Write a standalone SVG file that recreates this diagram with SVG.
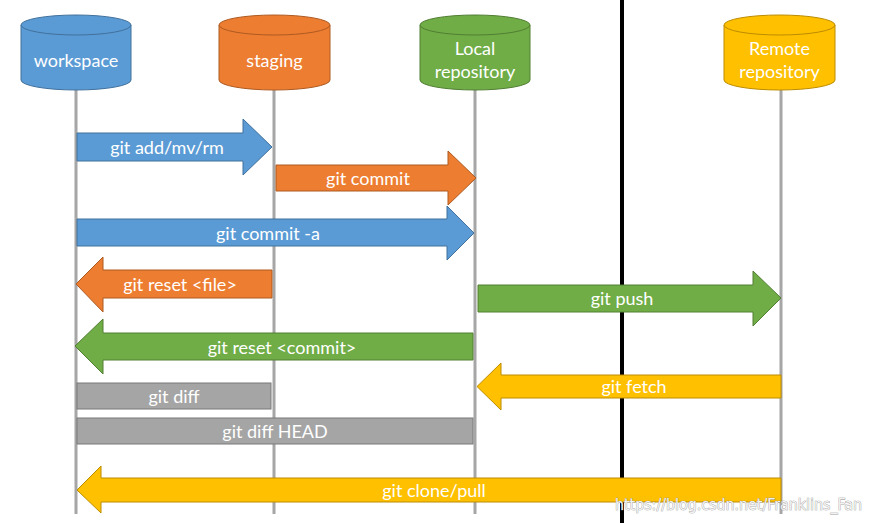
<svg xmlns="http://www.w3.org/2000/svg" width="871" height="523" viewBox="0 0 871 523">
<style>
.t{font-family:Lato,"Open Sans","Liberation Sans",sans-serif;font-size:18px;fill:#fff;text-anchor:middle;dominant-baseline:central}
.life{stroke:#a6a6a6;stroke-width:3;fill:none}
.blue{fill:#5b9bd5;stroke:#41719c;stroke-width:1}
.orange{fill:#ed7d31;stroke:#ae5a21;stroke-width:1}
.green{fill:#70ad47;stroke:#507e32;stroke-width:1}
.yellow{fill:#ffc000;stroke:#bc8c00;stroke-width:1}
.gray{fill:#a5a5a5;stroke:#787878;stroke-width:1}
.wm{font-family:"DejaVu Sans Condensed","Liberation Sans Narrow",sans-serif;font-size:15px;fill:#f2f2f2;stroke:#8c8c8c;stroke-width:0.6;paint-order:stroke}
</style>
<rect width="871" height="523" fill="#fff"/>
<g id="lifelines">
<line class="life" x1="76" y1="88" x2="76" y2="514"/>
<line class="life" x1="274" y1="88" x2="274" y2="514"/>
<line class="life" x1="475" y1="88" x2="475" y2="514"/>
<line class="life" x1="781" y1="88" x2="781" y2="514"/>
</g>
<line id="boundary" x1="622" y1="0" x2="622" y2="523" stroke="#000" stroke-width="4"/>
<g id="workspace">
<path class="blue" d="M21,25 v55 a55,10 0 0 0 110,0 v-55"/>
<ellipse class="blue" cx="76" cy="25" rx="55" ry="10"/>
<text class="t" x="76" y="60">workspace</text>
</g>
<g id="staging">
<path class="orange" d="M219,25 v55 a55.5,10 0 0 0 111,0 v-55"/>
<ellipse class="orange" cx="274.5" cy="25" rx="55.5" ry="10"/>
<text class="t" x="274.5" y="60">staging</text>
</g>
<g id="local">
<path class="green" d="M420,25 v55 a55,10 0 0 0 110,0 v-55"/>
<ellipse class="green" cx="475" cy="25" rx="55" ry="10"/>
<text class="t" x="475" y="48">Local</text>
<text class="t" x="475" y="71">repository</text>
</g>
<g id="remote">
<path class="yellow" d="M724,25 v55 a55.5,10 0 0 0 111,0 v-55"/>
<ellipse class="yellow" cx="779.5" cy="25" rx="55.5" ry="10"/>
<text class="t" x="779.5" y="48">Remote</text>
<text class="t" x="779.5" y="71">repository</text>
</g>
<g id="connectors">
<polygon class="blue" points="77,133 243,133 243,119 272,147 243,175 243,161 77,161"/>
<text class="t" x="167" y="147">git add/mv/rm</text>
<polygon class="orange" points="276,165 448,165 448,151 476,178 448,205 448,191 276,191"/>
<text class="t" x="368" y="178">git commit</text>
<polygon class="blue" points="77,219 447,219 447,206 474,233 447,260 447,246 77,246"/>
<text class="t" x="268" y="233">git commit -a</text>
<polygon class="orange" points="272,270 103,270 103,257 76,284 103,312 103,298 272,298"/>
<text class="t" x="180" y="284">git reset &lt;file&gt;</text>
<polygon class="green" points="478,285 753,285 753,271 781,298 753,326 753,312 478,312"/>
<text class="t" x="622" y="298">git push</text>
<polygon class="green" points="473,333 103,333 103,319 75,346 103,374 103,360 473,360"/>
<text class="t" x="282" y="347">git reset &lt;commit&gt;</text>
<polygon class="yellow" points="781,375 501,375 501,363 477,386.5 501,410 501,398 781,398"/>
<text class="t" x="634" y="386">git fetch</text>
<rect class="gray" x="77" y="383" width="194" height="26"/>
<text class="t" x="174" y="396">git diff</text>
<rect class="gray" x="77" y="418" width="396" height="26"/>
<text class="t" x="275" y="431">git diff HEAD</text>
<polygon class="yellow" points="781,478 101,478 101,466 77,490 101,513 101,502 781,502"/>
<text class="t" x="434" y="490">git clone/pull</text>
</g>
<text class="wm" x="615" y="510" textLength="247" lengthAdjust="spacingAndGlyphs">https://blog.csdn.net/Franklins_Fan</text>
</svg>
